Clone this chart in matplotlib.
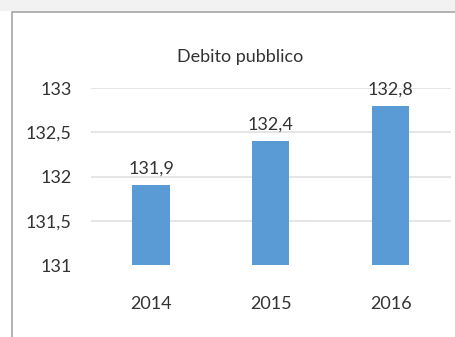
import matplotlib.pyplot as plt
from matplotlib.patches import Rectangle

years = ["2014", "2015", "2016"]
debt = [131.9, 132.4, 132.8]
y_ticks = [131, 131.5, 132, 132.5, 133]

TEXT = "#333333"
BLUE = "#5b9bd5"

plt.rcParams["font.family"] = ["Lato", "DejaVu Sans"]


def it_num(v):
    # Italian decimal comma
    s = f"{v:g}"
    return s.replace(".", ",")


fig = plt.figure(figsize=(4.56, 3.37), dpi=100)
ax = fig.add_axes([0.1996, 0.2136, 0.789, 0.5252])

x = range(len(years))
bars = ax.bar(x, debt, width=0.31, color=BLUE, bottom=0, zorder=3)
ax.set_ylim(131, 133)
ax.set_xlim(-0.5, 2.5)
ax.set_yticks(y_ticks)
ax.set_yticklabels([it_num(v) for v in y_ticks])
ax.set_xticks(list(x))
ax.set_xticklabels(years)

for xi, v in zip(x, debt):
    ax.annotate(it_num(v), (xi, v), xytext=(0, 6), textcoords="offset points",
                ha="center", va="bottom", fontsize=13, color=TEXT)

# gridlines above the baseline only
for yv in y_ticks[1:]:
    ax.axhline(yv, color="#e3e3e3", linewidth=1.3, zorder=0)
for s in ax.spines.values():
    s.set_visible(False)
ax.tick_params(axis="both", length=0, labelsize=13, labelcolor=TEXT)
ax.tick_params(axis="y", pad=14)
ax.tick_params(axis="x", pad=22)

fig.text(0.527, 0.83, "Debito pubblico", ha="center", va="center",
         fontsize=13, color=TEXT)

# light strip above the frame
fig.patches.append(Rectangle((0, 1 - 11 / 337), 1, 11 / 337,
                             transform=fig.transFigure, facecolor="#f2f2f2",
                             edgecolor="none"))
# chart frame
fig.patches.append(Rectangle((12 / 456, -0.1), 1.2, 1 - 12 / 337 + 0.1,
                             transform=fig.transFigure, fill=False,
                             edgecolor="#a6a6a6", linewidth=1.2))

fig.savefig("out.png", dpi=100)
